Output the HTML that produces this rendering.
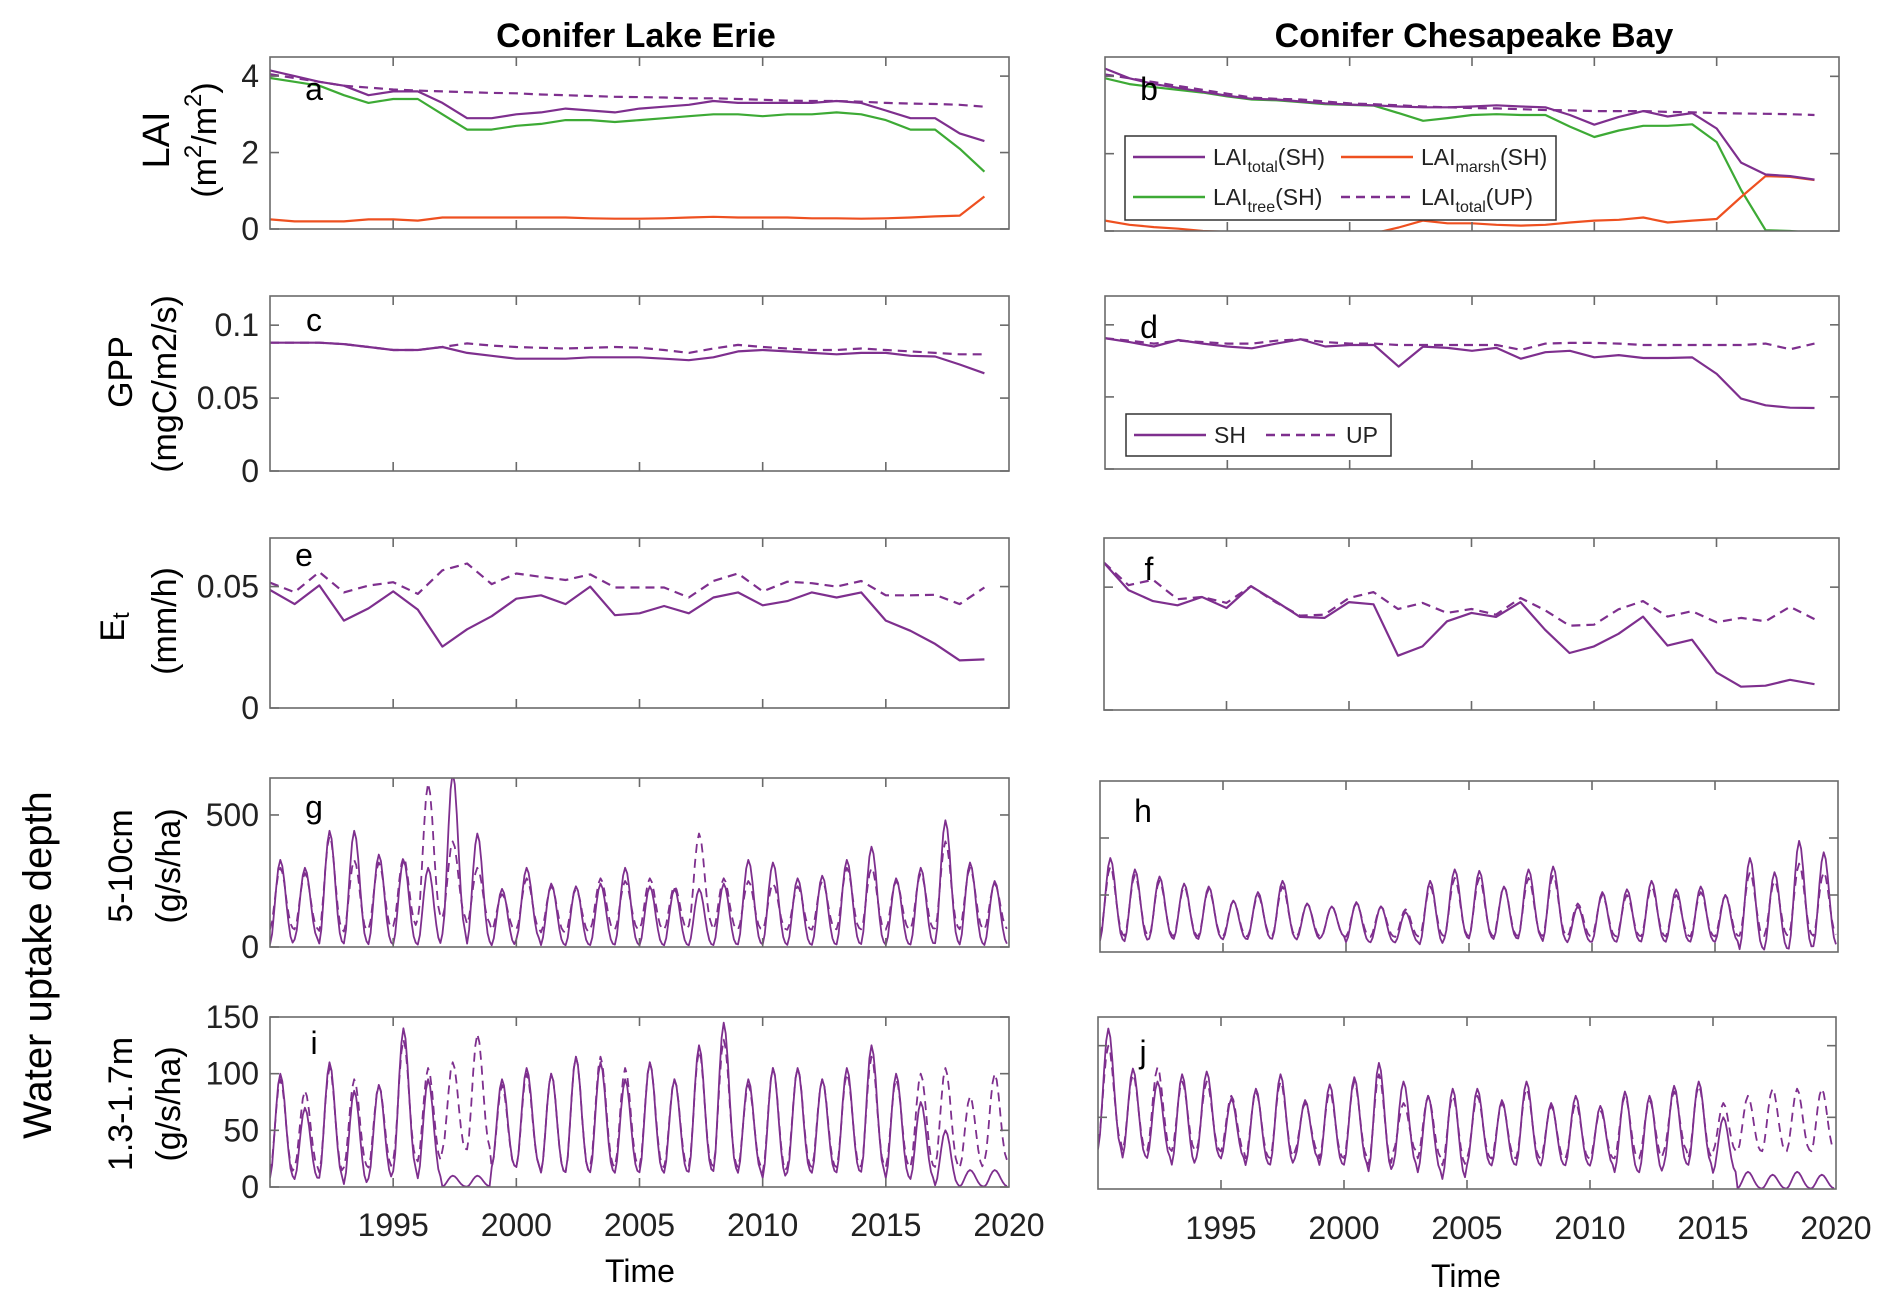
<!DOCTYPE html>
<html><head><meta charset="utf-8"><style>
html,body{margin:0;padding:0;background:#fff;}
svg{display:block;font-family:"Liberation Sans",Arial,sans-serif;}
</style></head><body>
<svg id="fig" width="1892" height="1307" viewBox="0 0 1892 1307" xmlns="http://www.w3.org/2000/svg">
<rect width="1892" height="1307" fill="#fff"/>
<text x="636" y="47" font-size="34" font-weight="bold" text-anchor="middle">Conifer Lake Erie</text>
<text x="1474" y="47" font-size="34" font-weight="bold" text-anchor="middle">Conifer Chesapeake Bay</text>
<g id="plots"></g>
<g font-size="34" text-anchor="middle" dominant-baseline="central">
<text transform="translate(157,140) rotate(-90)" font-size="38">LAI</text>
<text transform="translate(205,140) rotate(-90)">(m<tspan font-size="24" dy="-12">2</tspan><tspan dy="12">/m</tspan><tspan font-size="24" dy="-12">2</tspan><tspan dy="12">)</tspan></text>
<text transform="translate(121,372) rotate(-90)">GPP</text>
<text transform="translate(165,384) rotate(-90)">(mgC/m2/s)</text>
<text transform="translate(113,627) rotate(-90)">E<tspan font-size="24" dy="8">t</tspan></text>
<text transform="translate(165,621) rotate(-90)">(mm/h)</text>
<text transform="translate(38,965) rotate(-90)" font-size="40">Water uptake depth</text>
<text transform="translate(121,866) rotate(-90)">5-10cm</text>
<text transform="translate(169,866) rotate(-90)">(g/s/ha)</text>
<text transform="translate(121,1104) rotate(-90)">1.3-1.7m</text>
<text transform="translate(169,1104) rotate(-90)">(g/s/ha)</text>
</g>
<text x="640" y="1282" font-size="32" text-anchor="middle">Time</text>
<text x="1466" y="1287" font-size="32" text-anchor="middle">Time</text>
</svg>
<script>
const years=[1990,1991,1992,1993,1994,1995,1996,1997,1998,1999,2000,2001,2002,2003,2004,2005,2006,2007,2008,2009,2010,2011,2012,2013,2014,2015,2016,2017,2018,2019];
const xTickLabels=[1995,2000,2005,2010,2015,2020];
// LAI
const laiTotalSH_A=[4.15,4.0,3.85,3.75,3.5,3.6,3.6,3.3,2.9,2.9,3.0,3.05,3.15,3.1,3.05,3.15,3.2,3.25,3.35,3.3,3.3,3.3,3.3,3.35,3.3,3.1,2.9,2.9,2.5,2.3];
const laiTreeSH_A=[3.95,3.85,3.75,3.5,3.3,3.4,3.4,3.0,2.6,2.6,2.7,2.75,2.85,2.85,2.8,2.85,2.9,2.95,3.0,3.0,2.95,3.0,3.0,3.05,3.0,2.85,2.6,2.6,2.1,1.5];
const laiMarshSH_A=[0.25,0.2,0.2,0.2,0.25,0.25,0.22,0.3,0.3,0.3,0.3,0.3,0.3,0.28,0.27,0.27,0.28,0.3,0.32,0.3,0.3,0.3,0.28,0.28,0.27,0.28,0.3,0.33,0.35,0.85];
const laiTotalUP_A=[4.05,3.95,3.85,3.75,3.7,3.65,3.62,3.6,3.58,3.56,3.55,3.52,3.5,3.48,3.46,3.45,3.44,3.42,3.42,3.4,3.38,3.36,3.35,3.35,3.33,3.3,3.28,3.27,3.25,3.2];
const laiTotalSH_B=[4.2,3.95,3.8,3.7,3.6,3.5,3.42,3.4,3.35,3.3,3.27,3.25,3.22,3.2,3.2,3.22,3.25,3.22,3.2,3.0,2.75,2.95,3.1,2.96,3.05,2.65,1.77,1.46,1.42,1.33];
const laiTreeSH_B=[3.95,3.8,3.72,3.65,3.58,3.48,3.4,3.38,3.33,3.28,3.26,3.24,3.05,2.85,2.92,3.0,3.02,3.0,3.0,2.7,2.43,2.6,2.72,2.72,2.76,2.3,1.06,0.02,0.0,-0.05];
const laiMarshSH_B=[0.27,0.16,0.1,0.06,0.0,-0.02,-0.03,-0.06,-0.03,-0.03,-0.03,-0.06,0.09,0.27,0.2,0.2,0.16,0.14,0.16,0.22,0.27,0.29,0.35,0.22,0.27,0.31,0.88,1.42,1.40,1.32];
const laiTotalUP_B=[4.05,3.95,3.85,3.75,3.65,3.55,3.45,3.42,3.4,3.35,3.3,3.28,3.25,3.22,3.2,3.18,3.17,3.15,3.13,3.12,3.1,3.1,3.1,3.08,3.07,3.05,3.04,3.03,3.02,3.0];
// GPP
const gppSH_C=[0.088,0.088,0.088,0.087,0.085,0.083,0.083,0.085,0.081,0.079,0.077,0.077,0.077,0.078,0.078,0.078,0.077,0.076,0.078,0.082,0.083,0.082,0.081,0.080,0.081,0.081,0.079,0.0785,0.073,0.067];
const gppUP_C=[0.088,0.088,0.088,0.087,0.085,0.083,0.083,0.085,0.0875,0.086,0.085,0.0845,0.084,0.0845,0.085,0.0845,0.083,0.081,0.084,0.0865,0.085,0.084,0.083,0.083,0.084,0.083,0.082,0.081,0.080,0.080];
const gppSH_D=[0.0907,0.088,0.085,0.0895,0.087,0.085,0.0837,0.087,0.090,0.085,0.086,0.086,0.071,0.0849,0.084,0.082,0.084,0.0765,0.081,0.082,0.0775,0.079,0.077,0.077,0.0774,0.066,0.0488,0.0442,0.0425,0.0423];
const gppUP_D=[0.0907,0.089,0.087,0.089,0.088,0.087,0.087,0.089,0.090,0.088,0.087,0.087,0.086,0.086,0.086,0.086,0.086,0.0826,0.087,0.0875,0.0875,0.087,0.086,0.086,0.086,0.086,0.086,0.087,0.083,0.087];
// Et
const etSH_E=[0.0486,0.0428,0.0505,0.036,0.041,0.048,0.0405,0.0253,0.0324,0.0378,0.045,0.0464,0.0428,0.05,0.0382,0.039,0.042,0.039,0.0455,0.0476,0.0423,0.044,0.0476,0.0455,0.0476,0.036,0.0318,0.0264,0.0196,0.020];
const etUP_E=[0.0516,0.0477,0.056,0.0476,0.0504,0.0518,0.047,0.0567,0.0595,0.051,0.0554,0.054,0.0527,0.055,0.0496,0.0496,0.0496,0.0455,0.0523,0.0554,0.048,0.052,0.0514,0.05,0.0523,0.0464,0.0464,0.0466,0.0428,0.0496];
const etSH_F=[0.0599,0.0488,0.0443,0.0426,0.046,0.0415,0.0504,0.0443,0.0379,0.0375,0.0439,0.043,0.0221,0.0259,0.0361,0.0395,0.0379,0.0439,0.0327,0.0232,0.0259,0.031,0.038,0.0262,0.0286,0.0153,0.0095,0.0099,0.0123,0.0105];
const etUP_F=[0.060,0.0508,0.053,0.0451,0.046,0.0436,0.0504,0.0439,0.0384,0.0388,0.0456,0.048,0.0411,0.0436,0.0395,0.0411,0.0388,0.0456,0.0406,0.0343,0.0347,0.041,0.0443,0.038,0.0402,0.0357,0.0375,0.0361,0.042,0.037];
// Water uptake, annual peaks / troughs
const gPeakSH=[330,300,440,440,350,330,300,660,430,220,300,240,230,240,300,230,220,220,240,330,320,260,270,330,380,260,300,480,320,250];
const gTroughSH=[0,20,0,0,0,0,0,30,0,0,20,0,0,0,0,0,0,0,0,0,0,0,0,0,0,0,0,0,0,0];
const gPeakUP=[300,280,420,330,320,340,620,400,300,200,260,230,220,260,250,260,230,430,260,250,240,230,250,300,300,250,280,400,300,240];
const gTroughUP=[60,60,50,50,60,70,90,100,80,60,60,50,50,60,60,60,60,70,60,60,60,60,60,60,60,60,60,60,60,60];
const hPeakSH=[330,290,265,240,230,180,210,250,170,160,175,160,140,250,290,285,230,290,300,160,210,220,250,220,230,200,330,280,390,350];
const hTroughSH=[30,30,40,40,40,40,40,40,40,50,30,30,30,20,40,40,40,40,30,30,30,30,30,30,30,30,0,0,0,10];
const hPeakUP=[300,270,250,230,220,180,200,230,170,160,170,160,150,230,260,260,230,260,270,170,200,200,230,200,210,200,280,250,310,280];
const hTroughUP=[50,50,50,50,50,50,50,50,50,50,50,50,50,50,50,50,50,50,50,50,50,50,50,50,50,50,50,50,50,50];
const iPeakSH=[100,70,110,85,90,140,95,10,10,95,105,100,115,110,95,110,95,125,145,95,105,105,95,105,125,100,75,50,15,15];
const iTroughSH=[5,5,5,0,5,10,5,0,0,15,15,10,10,10,10,10,10,10,10,10,5,10,10,10,10,5,5,0,0,0];
const iPeakUP=[95,85,105,95,90,130,105,110,135,90,100,100,115,115,105,110,95,120,130,90,105,105,95,100,115,95,100,105,80,100];
const iTroughUP=[10,15,10,15,15,20,20,30,30,15,15,10,10,15,15,15,15,15,15,15,10,15,15,15,15,15,15,15,15,20];
const jPeakSH=[112,84,75,80,82,63,70,80,62,73,78,88,75,65,70,70,62,75,60,65,58,68,65,72,75,50,12,10,12,10];
const jTroughSH=[25,20,20,15,20,20,15,15,20,15,15,10,15,10,5,15,15,15,15,15,15,10,10,15,15,10,0,0,0,0];
const jPeakUP=[100,80,85,75,75,65,68,75,60,68,75,80,60,65,65,65,60,70,58,60,55,65,62,68,72,60,65,70,70,70];
const jTroughUP=[30,25,25,25,25,25,20,20,25,20,20,15,25,20,15,20,20,20,20,20,20,20,20,25,20,25,25,25,25,25];

const NS='http://www.w3.org/2000/svg';
const PURPLE='#7E2F8E',GREEN='#3DAA35',ORANGE='#EE5020';
const plots=document.getElementById('plots');
function mk(tag,attrs,parent){const e=document.createElementNS(NS,tag);for(const k in attrs)e.setAttribute(k,attrs[k]);(parent||plots).appendChild(e);return e;}
const seasonal=[0.03,0.15,0.4,0.68,0.9,1,0.93,0.75,0.5,0.28,0.12,0.05];
function monthly(peak,trough){const xs=[],vs=[];for(let i=0;i<years.length;i++){for(let m=0;m<12;m++){xs.push(years[i]+m/12);vs.push(trough[i]+(peak[i]-trough[i])*seasonal[m]);}}return {xs,vs};}

function panel(cfg){
  const g=mk('g',{});
  
  
  const L=cfg.x0,R=cfg.x1,T=cfg.y0,B=cfg.y1;
  const sx=v=>L+(v-1990)/30*(R-L);
  const sy=v=>B-(v-cfg.ymin)/(cfg.ymax-cfg.ymin)*(B-T);
  const clip='clip-'+cfg.letter;
  const cp=mk('clipPath',{id:clip},g);mk('rect',{x:L,y:T,width:R-L,height:B-T},cp);
  const lines=mk('g',{'clip-path':'url(#'+clip+')'},g);
  cfg.series.forEach(s=>{
    const xs=s.xs||years;
    let d='';s.v.forEach((v,i)=>{d+=(i?'L':'M')+sx(xs[i]).toFixed(1)+','+sy(v).toFixed(1);});
    const p=mk('path',{d,fill:'none',stroke:s.c,'stroke-width':s.w||2.2,'stroke-linejoin':'round'},lines);
    if(s.dash)p.setAttribute('stroke-dasharray','9,6');
    
    
  });
  const ax=mk('g',{stroke:'#6a6a6a','stroke-width':1.6,fill:'none'},g);
  
  
  mk('rect',{x:L,y:T,width:R-L,height:B-T},ax);
  xTickLabels.forEach(t=>{if(t<2020){const x=sx(t);mk('line',{x1:x,y1:B,x2:x,y2:B-9},ax);mk('line',{x1:x,y1:T,x2:x,y2:T+9},ax);}});
  cfg.yticks.forEach(t=>{const y=sy(t);mk('line',{x1:L,y1:y,x2:L+9,y2:y},ax);mk('line',{x1:R,y1:y,x2:R-9,y2:y},ax);});
  if(cfg.ylabels){cfg.ylabels.forEach((lab,i)=>{const t=mk('text',{x:L-11,y:sy(cfg.ylabelVals[i])+11,'font-size':32,'text-anchor':'end',fill:'#222'},g);t.textContent=lab;
    
    });}
  if(cfg.xlabels){xTickLabels.forEach(tk=>{const t=mk('text',{x:sx(tk),y:cfg.xlabY,'font-size':32,'text-anchor':'middle',fill:'#222'},g);t.textContent=tk;
    
    });}
  const lt=mk('text',{x:cfg.lx,y:cfg.ly,'font-size':32,'text-anchor':'middle'},g);lt.textContent=cfg.letter;
  
  
}
const LX0=270,LX1=1009;
const mg=[monthly(gPeakSH,gTroughSH),monthly(gPeakUP,gTroughUP),monthly(hPeakSH,hTroughSH),monthly(hPeakUP,hTroughUP),monthly(iPeakSH,iTroughSH),monthly(iPeakUP,iTroughUP),monthly(jPeakSH,jTroughSH),monthly(jPeakUP,jTroughUP)];
panel({name:'panel-a-lai-erie',letter:'a',x0:LX0,x1:LX1,y0:57,y1:229,ymin:0,ymax:4.5,yticks:[0,2,4],ylabels:['0','2','4'],ylabelVals:[0,2,4],lx:314,ly:100,
 series:[{v:laiTreeSH_A,c:GREEN,name:'lai-tree-sh'},{v:laiMarshSH_A,c:ORANGE,name:'lai-marsh-sh'},{v:laiTotalSH_A,c:PURPLE,name:'lai-total-sh'},{v:laiTotalUP_A,c:PURPLE,dash:1,name:'lai-total-up'}]});
panel({name:'panel-b-lai-chesapeake',letter:'b',x0:1105,x1:1839,y0:57,y1:231,ymin:0,ymax:4.5,yticks:[0,2,4],lx:1149,ly:100,
 series:[{v:laiTreeSH_B,c:GREEN,name:'lai-tree-sh'},{v:laiMarshSH_B,c:ORANGE,name:'lai-marsh-sh'},{v:laiTotalSH_B,c:PURPLE,name:'lai-total-sh'},{v:laiTotalUP_B,c:PURPLE,dash:1,name:'lai-total-up'}]});
panel({name:'panel-c-gpp-erie',letter:'c',x0:LX0,x1:LX1,y0:296,y1:471,ymin:0,ymax:0.12,yticks:[0,0.05,0.1],ylabels:['0','0.05','0.1'],ylabelVals:[0,0.05,0.1],lx:314,ly:331,
 series:[{v:gppSH_C,c:PURPLE,name:'gpp-sh'},{v:gppUP_C,c:PURPLE,dash:1,name:'gpp-up'}]});
panel({name:'panel-d-gpp-chesapeake',letter:'d',x0:1105,x1:1839,y0:296,y1:469,ymin:0,ymax:0.12,yticks:[0,0.05,0.1],lx:1149,ly:338,
 series:[{v:gppSH_D,c:PURPLE,name:'gpp-sh'},{v:gppUP_D,c:PURPLE,dash:1,name:'gpp-up'}]});
panel({name:'panel-e-et-erie',letter:'e',x0:LX0,x1:LX1,y0:538,y1:708,ymin:0,ymax:0.07,yticks:[0,0.05],ylabels:['0','0.05'],ylabelVals:[0,0.05],lx:304,ly:566,
 series:[{v:etSH_E,c:PURPLE,name:'et-sh'},{v:etUP_E,c:PURPLE,dash:1,name:'et-up'}]});
panel({name:'panel-f-et-chesapeake',letter:'f',x0:1104,x1:1839,y0:538,y1:710,ymin:0,ymax:0.07,yticks:[0,0.05],lx:1149,ly:580,
 series:[{v:etSH_F,c:PURPLE,name:'et-sh'},{v:etUP_F,c:PURPLE,dash:1,name:'et-up'}]});
panel({name:'panel-g-uptake-shallow-erie',letter:'g',x0:LX0,x1:LX1,y0:778,y1:947,ymin:0,ymax:640,yticks:[0,500],ylabels:['0','500'],ylabelVals:[0,500],lx:314,ly:818,
 series:[{xs:mg[1].xs,v:mg[1].vs,c:PURPLE,dash:1,w:1.8,name:'uptake-up'},{xs:mg[0].xs,v:mg[0].vs,c:PURPLE,w:1.8,name:'uptake-sh'}]});
panel({name:'panel-h-uptake-shallow-chesapeake',letter:'h',x0:1100,x1:1838,y0:781,y1:952,ymin:0,ymax:600,yticks:[200,400],lx:1143,ly:822,
 series:[{xs:mg[3].xs,v:mg[3].vs,c:PURPLE,dash:1,w:1.8,name:'uptake-up'},{xs:mg[2].xs,v:mg[2].vs,c:PURPLE,w:1.8,name:'uptake-sh'}]});
panel({name:'panel-i-uptake-deep-erie',letter:'i',x0:LX0,x1:LX1,y0:1017,y1:1187,ymin:0,ymax:150,yticks:[0,50,100,150],ylabels:['0','50','100','150'],ylabelVals:[0,50,100,150],lx:314,ly:1054,xlabels:1,xlabY:1236,
 series:[{xs:mg[5].xs,v:mg[5].vs,c:PURPLE,dash:1,w:1.8,name:'uptake-up'},{xs:mg[4].xs,v:mg[4].vs,c:PURPLE,w:1.8,name:'uptake-sh'}]});
panel({name:'panel-j-uptake-deep-chesapeake',letter:'j',x0:1098,x1:1836,y0:1017,y1:1189,ymin:0,ymax:120,yticks:[50,100],lx:1143,ly:1063,xlabels:1,xlabY:1239,
 series:[{xs:mg[7].xs,v:mg[7].vs,c:PURPLE,dash:1,w:1.8,name:'uptake-up'},{xs:mg[6].xs,v:mg[6].vs,c:PURPLE,w:1.8,name:'uptake-sh'}]});

// Legends
function legend(name,box,items){
  const g=mk('g',{});
  
  
  mk('rect',{x:box[0],y:box[1],width:box[2],height:box[3],fill:'#fff',stroke:'#333','stroke-width':1.5},g);
  items.forEach(it=>{
    const ln=mk('line',{x1:it.x,y1:it.y,x2:it.x+72,y2:it.y,stroke:it.c,'stroke-width':2.5},g);
    if(it.dash)ln.setAttribute('stroke-dasharray','9,6');
    const t=mk('text',{x:it.x+80,y:it.y+8,'font-size':23,fill:'#222'},g);
    if(it.sub){t.appendChild(document.createTextNode('LAI'));const s=mk('tspan',{'font-size':16,dy:7},t);s.textContent=it.sub;const s2=mk('tspan',{dy:-7},t);s2.textContent=it.suf;}
    else t.textContent=it.label;
    
    
  });
}
legend('lai-legend',[1125,136,431,84],[{x:1133,y:157,c:PURPLE,sub:'total',suf:'(SH)'},{x:1341,y:157,c:ORANGE,sub:'marsh',suf:'(SH)'},{x:1133,y:197,c:GREEN,sub:'tree',suf:'(SH)'},{x:1341,y:197,c:PURPLE,dash:1,sub:'total',suf:'(UP)'}]);
legend('gpp-legend',[1126,414,265,42],[{x:1134,y:435,c:PURPLE,label:'SH'},{x:1266,y:435,c:PURPLE,dash:1,label:'UP'}]);
</script>
</body></html>
